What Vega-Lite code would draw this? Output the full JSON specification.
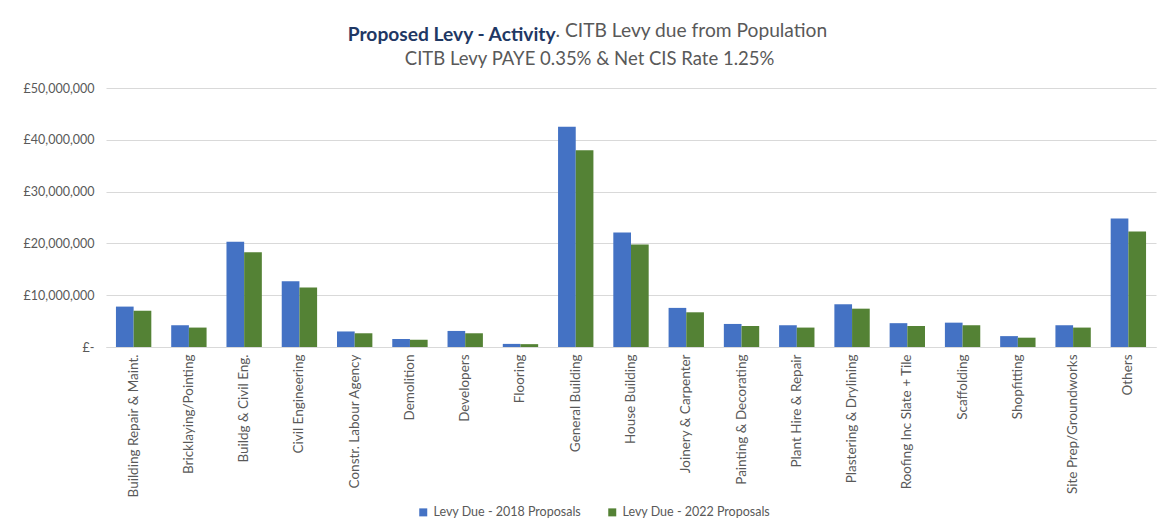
{
  "$schema": "https://vega.github.io/schema/vega-lite/v6.json",
  "background": "white",
  "padding": {"left": 23, "top": 22, "right": 5, "bottom": 4},
  "title": {
    "text": "Proposed Levy - Activity",
    "anchor": "middle",
    "align": "right",
    "dx": -34,
    "dy": 23,
    "offset": 0,
    "font": "Lato",
    "fontSize": 19.2,
    "fontWeight": "bold",
    "color": "#1F3864"
  },
  "vconcat": [
    {
      "title": {
        "text": ". CITB Levy due from Population",
        "anchor": "middle",
        "align": "left",
        "dx": -34,
        "offset": 8,
        "font": "Lato",
        "fontSize": 19.2,
        "fontWeight": "normal",
        "color": "#595959"
      },
      "vconcat": [
        {
          "title": {
            "text": "CITB Levy PAYE 0.35% & Net CIS Rate 1.25%",
            "anchor": "middle",
            "frame": "bounds",
            "offset": 14,
            "font": "Lato",
            "fontSize": 18.5,
            "fontWeight": "normal",
            "color": "#595959"
          },
          "width": 1050,
          "height": 259,
          "data": {
            "values": [
              {"activity": "Building Repair & Maint.", "series": "Levy Due - 2018 Proposals", "levy": 7800000},
              {"activity": "Building Repair & Maint.", "series": "Levy Due - 2022 Proposals", "levy": 7000000},
              {"activity": "Bricklaying/Pointing", "series": "Levy Due - 2018 Proposals", "levy": 4200000},
              {"activity": "Bricklaying/Pointing", "series": "Levy Due - 2022 Proposals", "levy": 3750000},
              {"activity": "Buildg & Civil Eng.", "series": "Levy Due - 2018 Proposals", "levy": 20300000},
              {"activity": "Buildg & Civil Eng.", "series": "Levy Due - 2022 Proposals", "levy": 18300000},
              {"activity": "Civil Engineering", "series": "Levy Due - 2018 Proposals", "levy": 12700000},
              {"activity": "Civil Engineering", "series": "Levy Due - 2022 Proposals", "levy": 11500000},
              {"activity": "Constr. Labour Agency", "series": "Levy Due - 2018 Proposals", "levy": 3000000},
              {"activity": "Constr. Labour Agency", "series": "Levy Due - 2022 Proposals", "levy": 2650000},
              {"activity": "Demolition", "series": "Levy Due - 2018 Proposals", "levy": 1550000},
              {"activity": "Demolition", "series": "Levy Due - 2022 Proposals", "levy": 1400000},
              {"activity": "Developers", "series": "Levy Due - 2018 Proposals", "levy": 3100000},
              {"activity": "Developers", "series": "Levy Due - 2022 Proposals", "levy": 2650000},
              {"activity": "Flooring", "series": "Levy Due - 2018 Proposals", "levy": 600000},
              {"activity": "Flooring", "series": "Levy Due - 2022 Proposals", "levy": 550000},
              {"activity": "General Building", "series": "Levy Due - 2018 Proposals", "levy": 42500000},
              {"activity": "General Building", "series": "Levy Due - 2022 Proposals", "levy": 38000000},
              {"activity": "House Building", "series": "Levy Due - 2018 Proposals", "levy": 22100000},
              {"activity": "House Building", "series": "Levy Due - 2022 Proposals", "levy": 19800000},
              {"activity": "Joinery & Carpenter", "series": "Levy Due - 2018 Proposals", "levy": 7550000},
              {"activity": "Joinery & Carpenter", "series": "Levy Due - 2022 Proposals", "levy": 6700000},
              {"activity": "Painting & Decorating", "series": "Levy Due - 2018 Proposals", "levy": 4450000},
              {"activity": "Painting & Decorating", "series": "Levy Due - 2022 Proposals", "levy": 4050000},
              {"activity": "Plant Hire & Repair", "series": "Levy Due - 2018 Proposals", "levy": 4200000},
              {"activity": "Plant Hire & Repair", "series": "Levy Due - 2022 Proposals", "levy": 3750000},
              {"activity": "Plastering & Drylining", "series": "Levy Due - 2018 Proposals", "levy": 8250000},
              {"activity": "Plastering & Drylining", "series": "Levy Due - 2022 Proposals", "levy": 7400000},
              {"activity": "Roofing Inc Slate + Tile", "series": "Levy Due - 2018 Proposals", "levy": 4600000},
              {"activity": "Roofing Inc Slate + Tile", "series": "Levy Due - 2022 Proposals", "levy": 4050000},
              {"activity": "Scaffolding", "series": "Levy Due - 2018 Proposals", "levy": 4700000},
              {"activity": "Scaffolding", "series": "Levy Due - 2022 Proposals", "levy": 4200000},
              {"activity": "Shopfitting", "series": "Levy Due - 2018 Proposals", "levy": 2100000},
              {"activity": "Shopfitting", "series": "Levy Due - 2022 Proposals", "levy": 1800000},
              {"activity": "Site Prep/Groundworks", "series": "Levy Due - 2018 Proposals", "levy": 4200000},
              {"activity": "Site Prep/Groundworks", "series": "Levy Due - 2022 Proposals", "levy": 3750000},
              {"activity": "Others", "series": "Levy Due - 2018 Proposals", "levy": 24800000},
              {"activity": "Others", "series": "Levy Due - 2022 Proposals", "levy": 22300000}
            ]
          },
          "mark": {"type": "bar"},
          "encoding": {
            "x": {
              "field": "activity",
              "type": "nominal",
              "sort": null,
              "scale": {"paddingInner": 0.36, "paddingOuter": 0.18},
              "axis": {
                "title": null,
                "labelAngle": -90,
                "ticks": false,
                "labelPadding": 7,
                "labelLimit": 200,
                "labelFont": "Lato",
                "labelFontSize": 13.5,
                "labelColor": "#595959",
                "domainColor": "#d9d9d9",
                "domainWidth": 1
              }
            },
            "xOffset": {
              "field": "series",
              "type": "nominal",
              "sort": ["Levy Due - 2018 Proposals", "Levy Due - 2022 Proposals"]
            },
            "y": {
              "field": "levy",
              "type": "quantitative",
              "scale": {"domain": [0, 50000000]},
              "axis": {
                "title": null,
                "values": [0, 10000000, 20000000, 30000000, 40000000, 50000000],
                "labelExpr": "datum.value == 0 ? '£-' : '£' + format(datum.value, ',')",
                "ticks": false,
                "domain": false,
                "labelPadding": 12,
                "labelFont": "Lato",
                "labelFontSize": 12.5,
                "labelColor": "#595959",
                "gridColor": "#d9d9d9",
                "gridWidth": 1
              }
            },
            "color": {
              "field": "series",
              "type": "nominal",
              "scale": {
                "domain": ["Levy Due - 2018 Proposals", "Levy Due - 2022 Proposals"],
                "range": ["#4472C4", "#548235"]
              },
              "legend": {
                "title": null,
                "orient": "none",
                "legendX": 311,
                "legendY": 418,
                "direction": "horizontal",
                "symbolType": "square",
                "symbolSize": 64,
                "symbolStrokeWidth": 0,
                "labelFont": "Lato",
                "labelFontSize": 12.5,
                "labelColor": "#595959",
                "columnPadding": 24
              }
            }
          }
        }
      ]
    }
  ],
  "config": {
    "view": {"stroke": null},
    "font": "Lato"
  }
}
